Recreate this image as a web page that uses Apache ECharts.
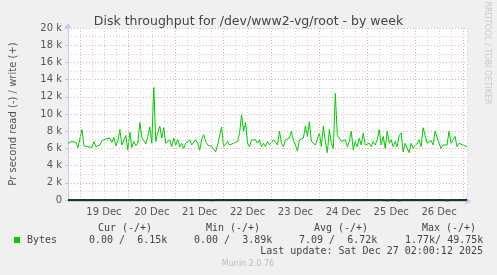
<!DOCTYPE html>
<html><head><meta charset="utf-8">
<script src="https://cdn.jsdelivr.net/npm/echarts@6/dist/echarts.min.js"></script>
<style>html,body{margin:0;padding:0;background:#f0f0f0}#c{width:497px;height:275px}</style>
</head><body><div id="c"></div>
<script>
// hours relative to Dec 19 00:00; graph starts Dec 18 18:00, ends Dec 27 02:00
const startHour = -6;
const endHour = 194;
const dayLabels = ['19 Dec','20 Dec','21 Dec','22 Dec','23 Dec','24 Dec','25 Dec','26 Dec'];
const yTickLabels = ['0','2 k','4 k','6 k','8 k','10 k','12 k','14 k','16 k','18 k','20 k'];
const midnightHours = [0,24,48,72,96,120,144,168,192];
// write bytes/s, one value per hour from startHour
const writeValues = [
 6600,6700,6800,6600,6700,6100,
 6000,8200,6300,6500,6200,6400,6100,6800,6200,6000,6400,6900,7000,7100,6900,7200,6700,7300,6300,6900,8200,6400,6300,7500,
 5800,7900,6100,6800,6300,6600,9000,7300,6900,6500,7400,8500,6600,13100,6800,7800,8600,7200,8400,6600,6400,7000,6200,7200,
 6400,7000,6200,6600,6000,6600,6800,7000,6400,6200,7000,6600,5800,7000,7600,6800,6400,6200,6200,6200,5600,6400,6400,8500,
 6200,6000,6800,6400,6200,6600,6800,6800,7800,9900,8000,9000,6600,6200,7000,6800,7000,6600,7000,6200,6600,6200,6800,6400,
 6200,7000,7000,6400,8000,6600,6200,7000,6800,7200,8000,6900,6400,5700,7000,6800,7200,8600,7400,9100,6800,7000,6400,6200,
 7800,6200,8600,6800,5500,8200,6600,6000,12400,7500,7200,6800,6600,7000,6200,6800,8000,5800,6800,6200,7200,6400,7800,6400,
 6200,6600,6200,6800,6400,7000,8200,6400,7400,6000,8000,6600,7000,6200,6800,6200,7500,7800,5600,6600,6400,5500,6600,6000,
 6200,6600,7000,6200,8400,8300,6600,6800,6900,6400,8000,7800,6600,6000,6400,6400,6400,8000,6600,6400,7400,6200,6600,6800,
 6400,6400,6200
];
// read bytes/s (drawn negative), only the hours where it is not zero
const readDipHours = [66,141,143,154,160,163,167,179,184,187,191];
const readDipValues = [-120,-150,-150,-130,-140,-150,-150,-130,-150,-150,-150];
const legendHeaders = ['Cur (-/+)','Min (-/+)','Avg (-/+)','Max (-/+)'];
const legendValues = ['0.00 /  6.15k','0.00 /  3.89k','7.09 /  6.72k','1.77k/ 49.75k'];
const seriesName = 'Bytes';
const lastUpdate = 'Last update: Sat Dec 27 02:00:12 2025';

const writeData = writeValues.map((v,i)=>[startHour+i, v]);
const readData = writeValues.map((v,i)=>{
  const h = startHour+i; const k = readDipHours.indexOf(h);
  return [h, k>=0 ? readDipValues[k] : 0];
});

const chart = echarts.init(document.getElementById('c'), null, {renderer:'canvas'});
const mono = '10px "DejaVu Sans Mono"';
const headerX = [125, 233, 341, 449];
const valueX = [89, 194, 299, 405];
const graphics = [];
legendHeaders.forEach((t,i)=>graphics.push({type:'text', x:headerX[i], y:228, style:{text:t, font:mono, fill:'#444', align:'center', textAlign:'center', verticalAlign:'middle', textVerticalAlign:'middle'}}));
legendValues.forEach((t,i)=>graphics.push({type:'text', x:valueX[i], y:240, style:{text:t, font:mono, fill:'#444', align:'left', textAlign:'left', verticalAlign:'middle', textVerticalAlign:'middle'}}));
graphics.push({type:'rect', shape:{x:14, y:237, width:6, height:6}, style:{fill:'#00cc00'}});
graphics.push({type:'text', x:27, y:240, style:{text:seriesName, font:mono, fill:'#444', align:'left', textAlign:'left', verticalAlign:'middle', textVerticalAlign:'middle'}});
graphics.push({type:'text', x:483, y:251, style:{text:lastUpdate, font:mono, fill:'#444', align:'right', textAlign:'right', verticalAlign:'middle', textVerticalAlign:'middle'}});
graphics.push({type:'text', x:248, y:264, style:{text:'Munin 2.0.76', font:'8px "DejaVu Sans"', fill:'#bdbdbd', align:'center', textAlign:'center', verticalAlign:'middle', textVerticalAlign:'middle'}});
graphics.push({type:'text', x:487, y:53, rotation:-Math.PI/2, style:{text:'RRDTOOL / TOBI OETIKER', font:'8px "DejaVu Sans"', fill:'#c8c8c8', align:'center', textAlign:'center', verticalAlign:'middle', textVerticalAlign:'middle'}});

const axisBlue = '#c4c8f0';
const redGrid = '#e8aaaa';
const grayGrid = '#d2d2d2';
chart.setOption({
  animation:false,
  backgroundColor:'#f0f0f0',
  textStyle:{fontFamily:'DejaVu Sans'},
  title:{text:'Disk throughput for /dev/www2-vg/root - by week', left:'center', top:10,
    textStyle:{fontSize:12.5, fontWeight:'normal', color:'#444', fontFamily:'DejaVu Sans'}},
  grid:{left:67, right:30, top:28, bottom:75, show:true, backgroundColor:'#ffffff', borderWidth:0},
  xAxis:{type:'value', min:startHour, max:endHour, interval:6, offset:1,
    axisLine:{show:true, onZero:false, lineStyle:{color:axisBlue}, symbol:['none','arrow'], symbolSize:[6,6], symbolOffset:[0,4]},
    axisTick:{show:false},
    axisLabel:{color:'#555', fontSize:10, margin:6, showMinLabel:true, showMaxLabel:true,
      formatter:v=>{const r=((v-12)%24+24)%24; if(r!==0) return ''; const k=(v-12)/24; return dayLabels[k]||'';}},
    splitLine:{show:true, lineStyle:{color:grayGrid, type:[1,2], width:1}}},
  yAxis:{type:'value', min:0, max:20000, interval:2000,
    name:'Pr second read (-) / write (+)', nameLocation:'middle', nameGap:50,
    nameTextStyle:{color:'#555', fontSize:10},
    axisLine:{show:true, onZero:false, lineStyle:{color:axisBlue}, symbol:['none','arrow'], symbolSize:[6,6], symbolOffset:[0,5]},
    axisTick:{show:true, length:3, lineStyle:{color:'#cccccc'}},
    minorTick:{show:false, splitNumber:2},
    minorSplitLine:{show:true, lineStyle:{color:grayGrid, type:[1,2], width:1}},
    splitLine:{show:true, lineStyle:{color:redGrid, type:[1,2], width:1}},
    axisLabel:{color:'#555', fontSize:10, margin:6, formatter:v=>yTickLabels[Math.round(v/2000)]}},
  graphic:graphics,
  series:[
    {type:'line', data:[[startHour,0]], z:1, silent:true, symbol:'none', lineStyle:{opacity:0},
      markLine:{silent:true, symbol:'none', label:{show:false}, animation:false,
        lineStyle:{color:redGrid, type:[1,2], width:1},
        data:midnightHours.map(h=>({xAxis:h}))}},
    {type:'line', name:'write', data:writeData, symbol:'none', showSymbol:false, z:3,
      lineStyle:{color:'#00cc00', width:1}},
    {type:'line', name:'read', data:readData, symbol:'none', showSymbol:false, z:2, clip:false,
      lineStyle:{color:'#00cc00', width:1}},
    {type:'line', data:[[startHour,0]], z:6, silent:true, symbol:'none', lineStyle:{opacity:0},
      markLine:{silent:true, symbol:'none', label:{show:false}, animation:false,
        lineStyle:{color:'#000000', type:'solid', width:1.5}, data:[{yAxis:0}]}}
  ]
});
</script></body></html>
